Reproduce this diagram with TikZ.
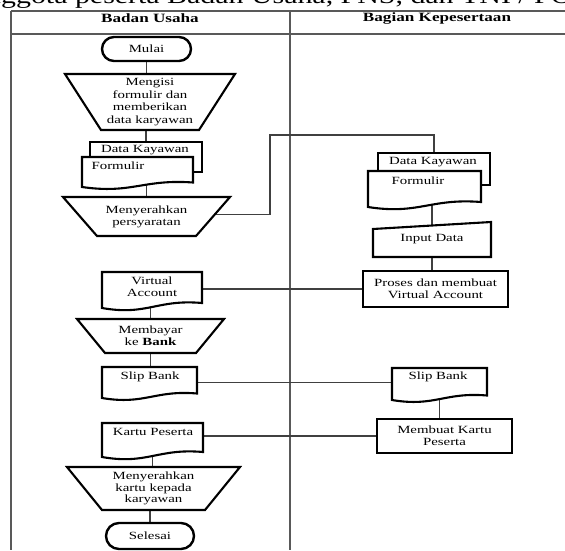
\documentclass[tikz,border=0pt]{standalone}
\usepackage{fontspec}
\usepackage{graphicx}
\setmainfont{Liberation Serif}
\newfontfamily\stretchserif[FakeStretch=1.35]{Liberation Serif}
\newfontfamily\titleserif[FakeStretch=1.3]{Liberation Serif}
\usetikzlibrary{calc}
\pgfdeclarelayer{bg}
\pgfdeclarelayer{shapes}
\pgfsetlayers{bg,shapes,main}
\newcommand\boxtxt{\stretchserif\fontsize{11}{12}\selectfont}
\newcommand\widebold[1]{\scalebox{1.35}[1]{\rmfamily\bfseries #1}}
\newcommand\trapshape[2]{\path[shp] (#1.north west) -- (#1.north east) -- ([xshift=-#2pt]#1.south east) -- ([xshift=#2pt]#1.south west) -- cycle;}
\newcommand\docshape[2]{\path[shp] ($(#1.south east)+(0,-#2)$) -- (#1.north east) -- (#1.north west) -- (#1.south west) .. controls ($(#1.south west)!0.45!(#1.south east)+(0,1.6*#2)$) and ($(#1.south west)!0.55!(#1.south east)+(0,-1.8*#2)$) .. ($(#1.south east)+(0,-#2)$) -- cycle;}
\newcommand\inshape[2]{\path[shp] (#1.south west) -- ([yshift=-#2pt]#1.north west) -- (#1.north east) -- (#1.south east) -- cycle;}
\tikzset{
  shp/.style={draw=black, line width=2.1pt, fill=white, line join=miter},
  conn/.style={draw=black!75, line width=1.1pt},
  tline/.style={draw=black!65, line width=1.3pt},
  frame/.style={inner sep=0pt, outer sep=0pt},
  txt/.style={inner sep=0pt, align=center, font=\boxtxt},
  term/.style={shp, line width=2.4pt, rounded corners=12pt, inner sep=0pt, font=\boxtxt},
  procbox/.style={shp, line width=2.8pt, inner sep=0pt, align=center, font=\boxtxt},
  hd/.style={inner sep=0pt, font=\fontsize{12.7}{14}\selectfont}
}
\begin{document}
\begin{tikzpicture}[x=1pt, y=-1pt]
\useasboundingbox (0,0) rectangle (565,550);
% title (cut off at the top, as in the source page)
\begin{scope}
\clip (0,0) rectangle (565,550);
\node[inner sep=0pt, anchor=base west, font=\titleserif\fontsize{23}{26}\selectfont] (ttl) at (-14,3.5) {nggota peserta Badan Usaha, PNS, dan TNI / POLRI};
\end{scope}
% headers
\node[hd] (hd1) at (150,18.5) {\widebold{Badan Usaha}};
\node[hd] (hd2) at (437,18) {\widebold{Bagian Kepesertaan}};
% left column
\node[term, minimum width=89pt, minimum height=24pt] (mulai) at (146.5,49) {Mulai};
\node[frame, txt, minimum width=170pt, minimum height=56pt, font=\stretchserif\fontsize{11}{12.7}\selectfont] (t1) at (150,102) {Mengisi\\formulir dan\\memberikan\\data karyawan};
\node[frame, minimum width=112pt, minimum height=30pt] (lb) at (146,157) {};
\node[frame, minimum width=111pt, minimum height=30pt] (lf) at (137.5,172) {};
\node[txt] (lbt) at (145,150) {Data Kayawan};
\node[txt] (lft) at (118,166) {Formulir};
\node[frame, txt, minimum width=167pt, minimum height=39pt] (t2) at (146.5,216.5) {Menyerahkan\\persyaratan};
\node[frame, minimum width=100pt, minimum height=36pt] (va) at (152,290) {};
\node[txt] (vat) at (152,286.5) {Virtual\\Account};
\node[frame, txt, minimum width=147pt, minimum height=34pt] (t3) at (150.5,336) {Membayar\\ke \widebold{\fontsize{11}{12}\selectfont Bank}};
\node[frame, minimum width=95pt, minimum height=31pt] (sl) at (149.5,382.5) {};
\node[txt] (slt) at (150,377) {Slip Bank};
\node[frame, minimum width=101pt, minimum height=34pt] (kp) at (152.5,440) {};
\node[txt] (kpt) at (153,432) {Kartu Peserta};
\node[frame, txt, minimum width=173pt, minimum height=43pt, font=\stretchserif\fontsize{11}{11.6}\selectfont] (t4) at (153.5,488.5) {Menyerahkan\\kartu kepada\\karyawan};
\node[term, rounded corners=13pt, minimum width=88pt, minimum height=26pt] (se) at (150,536) {Selesai};
% right column
\node[frame, minimum width=112pt, minimum height=32pt] (rb) at (434,169) {};
\node[frame, minimum width=113pt, minimum height=36pt] (rf) at (424.5,189) {};
\node[txt] (rbt) at (433,162.5) {Data Kayawan};
\node[txt] (rft) at (418,181) {Formulir};
\node[frame, txt, minimum width=118pt, minimum height=35pt] (inp) at (432,239.5) {Input Data};
\node[procbox, minimum width=145pt, minimum height=36pt] (pr) at (435.5,289) {Proses dan membuat\\Virtual Account};
\node[frame, minimum width=95pt, minimum height=32pt] (sr) at (439.5,384) {};
\node[txt] (srt) at (438,377) {Slip Bank};
\node[procbox, minimum width=135pt, minimum height=34pt] (mk) at (444.5,436) {Membuat Kartu\\Peserta};
\coordinate (k1) at (270,135);
% shapes
\begin{pgfonlayer}{shapes}
\trapshape{t1}{36}
\path[shp] (lb.south west) rectangle (lb.north east);
\docshape{lf}{4.5}
\trapshape{t2}{34}
\docshape{va}{5}
\trapshape{t3}{28}
\docshape{sl}{4.5}
\docshape{kp}{5}
\trapshape{t4}{35}
\path[shp] (rb.south west) rectangle (rb.north east);
\docshape{rf}{5}
\inshape{inp}{7}
\docshape{sr}{4.5}
\end{pgfonlayer}
% table and connectors
\begin{pgfonlayer}{bg}
\fill[white] (0,0) rectangle (565,550);
\draw[tline] (11,11) -- (565,11);
\draw[tline] (11,34) -- (565,34);
\draw[tline] (11,11) -- (11,550);
\draw[tline] (290,11) -- (290,550);
\draw[conn] (mulai.south) -- (mulai.south |- t1.north);
\draw[conn] (lb.north) -- (lb.north |- t1.south);
\draw[conn] (t2.north) -- (t2.north |- lf.center);
\draw[conn] ([yshift=2pt]t2.center) -| (k1) -| (rb.north);
\draw[conn] (inp.center) -- (inp.center |- rf.center);
\draw[conn] (inp.south) -- (inp.south |- pr.north);
\draw[conn] (pr.west) -- (pr.west -| va.center);
\draw[conn] (t3.north) -- (t3.north |- va.center);
\draw[conn] (t3.south) -- (t3.south |- sl.center);
\draw[conn] (sl.center) -- (sl.center -| sr.center);
\draw[conn] (sr.center) -- (sr.center |- mk.north);
\draw[conn] (mk.west) -- (mk.west -| kp.center);
\draw[conn] (kp.center) -- (kp.center |- t4.north);
\draw[conn] (se.north) -- (se.north |- t4.south);
\end{pgfonlayer}
\end{tikzpicture}
\end{document}
